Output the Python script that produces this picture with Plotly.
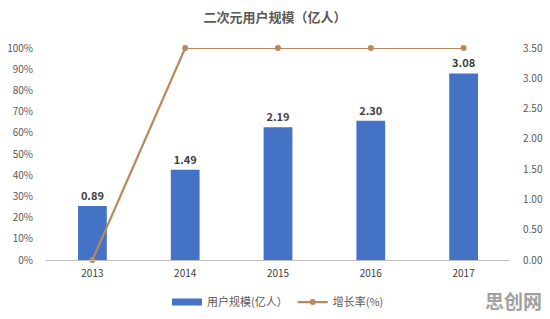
import plotly.graph_objects as go

years = ["2013", "2014", "2015", "2016", "2017"]
users = [0.89, 1.49, 2.19, 2.30, 3.08]
growth = [0, 100, 100, 100, 100]
user_labels = ["0.89", "1.49", "2.19", "2.30", "3.08"]
left_ticks = [0, 10, 20, 30, 40, 50, 60, 70, 80, 90, 100]
right_ticks = [0, 0.5, 1.0, 1.5, 2.0, 2.5, 3.0, 3.5]

FONT = "Noto Sans CJK SC, Noto Sans, sans-serif"
BAR_C = "#4472C4"
LINE_C = "#B9895B"

fig = go.Figure()
# bars on primary (right-side) axis so the line overlay draws above them
fig.add_trace(go.Bar(
    x=years, y=users, name="用户规模(亿人）", yaxis="y",
    marker=dict(color=BAR_C, line=dict(width=0)),
    width=0.31,
    text=user_labels, textposition="outside",
    texttemplate="<b>%{text}</b>",
    textfont=dict(size=11, color="#404040", family=FONT),
    cliponaxis=False, showlegend=False,
))
# legend entry with wide bar swatch
fig.add_trace(go.Scatter(
    x=[None], y=[None], name="用户规模(亿人）", mode="lines",
    line=dict(color=BAR_C, width=7), yaxis="y",
))
fig.add_trace(go.Scatter(
    x=years, y=growth, name="增长率(%)", yaxis="y2",
    mode="lines+markers",
    line=dict(color=LINE_C, width=2.2),
    marker=dict(size=6, color=LINE_C),
    cliponaxis=False,
))

fig.update_layout(
    width=550, height=319,
    margin=dict(l=46, r=40, t=48, b=59),
    paper_bgcolor="white", plot_bgcolor="white",
    font=dict(family=FONT, color="#595959", size=10),
    title=dict(text="<b>二次元用户规模（亿人）</b>", x=0.5, xanchor="center",
               y=0.945, yanchor="middle",
               font=dict(size=13, color="#595959", family=FONT)),
    xaxis=dict(showgrid=False, showline=True, linecolor="#BFBFBF", linewidth=1,
               ticks="", tickfont=dict(size=10, color="#404040"),
               ticklabelstandoff=4, automargin=False),
    yaxis=dict(range=[0, 3.5], tickvals=right_ticks,
               ticktext=[f"{v:.2f}" for v in right_ticks],
               side="right",
               showgrid=False, zeroline=False, showline=False,
               tickfont=dict(size=10, color="#595959"), ticklabelstandoff=12,
               automargin=False),
    yaxis2=dict(range=[0, 100], tickvals=left_ticks,
                ticktext=[f"{v}%" for v in left_ticks],
                overlaying="y", side="left",
                showgrid=False, zeroline=False, showline=False,
                tickfont=dict(size=10, color="#595959"), ticklabelstandoff=12,
                automargin=False),
    legend=dict(orientation="h", x=0.5, xanchor="center",
                yref="container", y=0.053, yanchor="middle",
                font=dict(size=11, color="#595959"), traceorder="normal",
                itemwidth=30),
    showlegend=True,
)

fig.add_annotation(text="<b>思创网</b>", x=(544 - 46) / (550 - 46 - 40),
                   xref="paper", xanchor="right",
                   y=(260 - 300) / (319 - 48 - 59), yref="paper",
                   yanchor="middle", showarrow=False,
                   font=dict(size=19, color="#A0A0A0", family=FONT))

fig.write_html("out.html")
